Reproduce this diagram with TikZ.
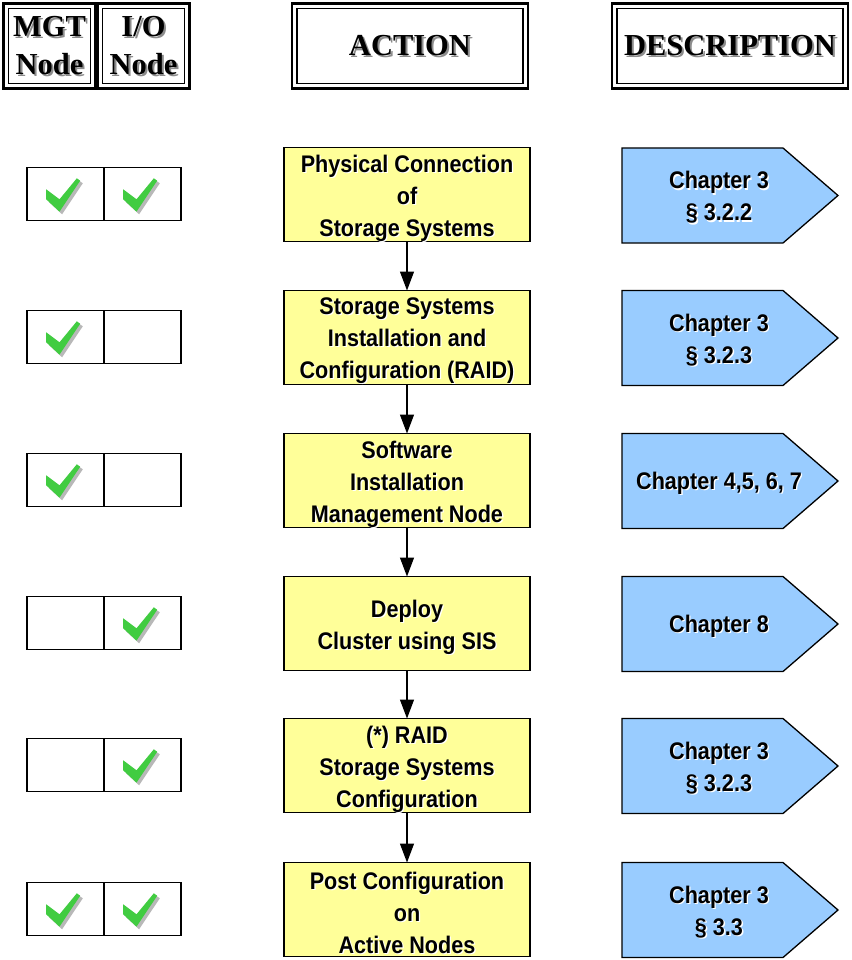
\documentclass[tikz,border=0pt]{standalone}
\usepackage{fontspec}
\setmainfont{Liberation Serif}
\newfontfamily\armfont[FakeStretch=0.9]{Liberation Sans}
\usetikzlibrary{arrows.meta,calc}

\definecolor{actfill}{HTML}{FFFF99}
\definecolor{descfill}{HTML}{99CCFF}
\definecolor{tickgreen}{HTML}{41CC41}
\definecolor{tickshade}{HTML}{B8B8B8}
\definecolor{hdrshade}{HTML}{8C8C8C}

% a line of text with a soft offset copy behind it
\newcommand\hsh[1]{\makebox[0pt][l]{\hspace{2pt}\raisebox{-2pt}{\textcolor{hdrshade}{#1}}}#1}
\newcommand\bsh[1]{\makebox[0pt][l]{\hspace{1.3pt}\raisebox{-1.3pt}{\textcolor{white}{#1}}}#1}

\tikzset{
  x=1pt, y=-1pt,
  every node/.style={outer sep=0pt, inner sep=0pt},
  hdrbox/.style={draw, line width=2.6pt, minimum height=85},
  hdrtext/.style={font=\fontsize{30.5}{38}\selectfont\bfseries, align=center},
  actbox/.style={draw, line width=1.3pt, fill=actfill, minimum width=246, minimum height=94},
  descbox/.style={minimum width=216, minimum height=95},
  descshape/.style={draw, line width=1.3pt, fill=descfill},
  boxtext/.style={font=\armfont\fontsize{24}{32}\selectfont\bfseries, align=center},
  tickcell/.style={draw, line width=1.8pt, minimum width=77, minimum height=53},
  flow/.style={line width=1.3pt, -{Triangle[width=14pt,length=19pt]}},
  tick/.pic={
    \fill[tickshade, shift={(2.6,2.6)}]
      (-19.3,-4.7) -- (-6,5.3) -- (11.3,-15.7) -- (14.7,-13.3) -- (-6,17.7) -- (-19.3,5.3) -- cycle;
    \fill[tickgreen]
      (-19.3,-4.7) -- (-6,5.3) -- (11.3,-15.7) -- (14.7,-13.3) -- (-6,17.7) -- (-19.3,5.3) -- cycle;
  }
}

% header with a thick outer frame and a thin inner frame
\newcommand\headerbox[4]{% name, centre, width, text
  \node[hdrbox, minimum width=#3] (#1) at (#2) {};
  \draw[line width=1.2pt] ([shift={(5,5)}]#1.north west) rectangle ([shift={(-5,-5)}]#1.south east);
  \node[hdrtext] at ([shift={(0,1)}]#1.center) {#4};
}
% yellow action step
\newcommand\actionstep[3]{% name, y, text
  \node[actbox] (#1) at (407,#2) {};
  \node[boxtext] at ([shift={(0,4)}]#1.center) {#3};
}
% blue pointer with the chapter reference
\newcommand\descstep[3]{% name, y, text
  \node[descbox] (#1) at (730,#2) {};
  \draw[descshape] (#1.north west) -- ([xshift=-55]#1.north east) -- (#1.east)
    -- ([xshift=-55]#1.south east) -- (#1.south west) -- cycle;
  \node[boxtext] at ([shift={(-11,2.5)}]#1.center) {#3};
}
% pair of cells: management node / I/O node
\newcommand\checkpair[3]{% name, y, which ticks (mgt / io / both)
  \node[tickcell] (#1m) at (65.5,#2) {};
  \node[tickcell] (#1i) at (142.5,#2) {};
  \def\tmpsel{#3}%
  \def\tmpmgt{mgt}\def\tmpio{io}\def\tmpboth{both}%
  \ifx\tmpsel\tmpmgt \pic at (#1m.center) {tick};\fi
  \ifx\tmpsel\tmpio \pic at (#1i.center) {tick};\fi
  \ifx\tmpsel\tmpboth \pic at (#1m.center) {tick}; \pic at (#1i.center) {tick};\fi
}

\begin{document}
\begin{tikzpicture}
  \useasboundingbox (0,0) rectangle (851,960);

  % column headers
  \headerbox{hmgt}{49.5,46}{92}{\hsh{MGT}\\\hsh{Node}}
  \headerbox{hio}{143.5,46}{92}{\hsh{I/O}\\\hsh{Node}}
  \headerbox{hact}{410,46}{236}{\hsh{ACTION}}
  \headerbox{hdesc}{730,46}{236}{\hsh{DESCRIPTION}}

  % steps
  \actionstep{a1}{194.5}{\bsh{Physical Connection}\\\bsh{of}\\\bsh{Storage Systems}}
  \actionstep{a2}{337.5}{\bsh{Storage Systems}\\\bsh{Installation and}\\\bsh{Configuration (RAID)}}
  \actionstep{a3}{480.5}{\bsh{Software}\\\bsh{Installation}\\\bsh{Management Node}}
  \actionstep{a4}{623.5}{\bsh{Deploy}\\\bsh{Cluster using SIS}}
  \actionstep{a5}{765.5}{\bsh{(*) RAID}\\\bsh{Storage Systems}\\\bsh{Configuration}}
  \actionstep{a6}{909.5}{\bsh{Post Configuration}\\\bsh{on}\\\bsh{Active Nodes}}

  \draw[flow] (a1) -- (a2);
  \draw[flow] (a2) -- (a3);
  \draw[flow] (a3) -- (a4);
  \draw[flow] (a4) -- (a5);
  \draw[flow] (a5) -- (a6);

  % references
  \descstep{d1}{195.5}{\bsh{Chapter 3}\\\bsh{§ 3.2.2}}
  \descstep{d2}{338}{\bsh{Chapter 3}\\\bsh{§ 3.2.3}}
  \descstep{d3}{481}{\bsh{Chapter 4,5, 6, 7}}
  \descstep{d4}{624}{\bsh{Chapter 8}}
  \descstep{d5}{766}{\bsh{Chapter 3}\\\bsh{§ 3.2.3}}
  \descstep{d6}{910}{\bsh{Chapter 3}\\\bsh{§ 3.3}}

  % node types concerned by each step
  \checkpair{c1}{194}{both}
  \checkpair{c2}{337}{mgt}
  \checkpair{c3}{480}{mgt}
  \checkpair{c4}{623}{io}
  \checkpair{c5}{765}{io}
  \checkpair{c6}{909}{both}
\end{tikzpicture}
\end{document}
